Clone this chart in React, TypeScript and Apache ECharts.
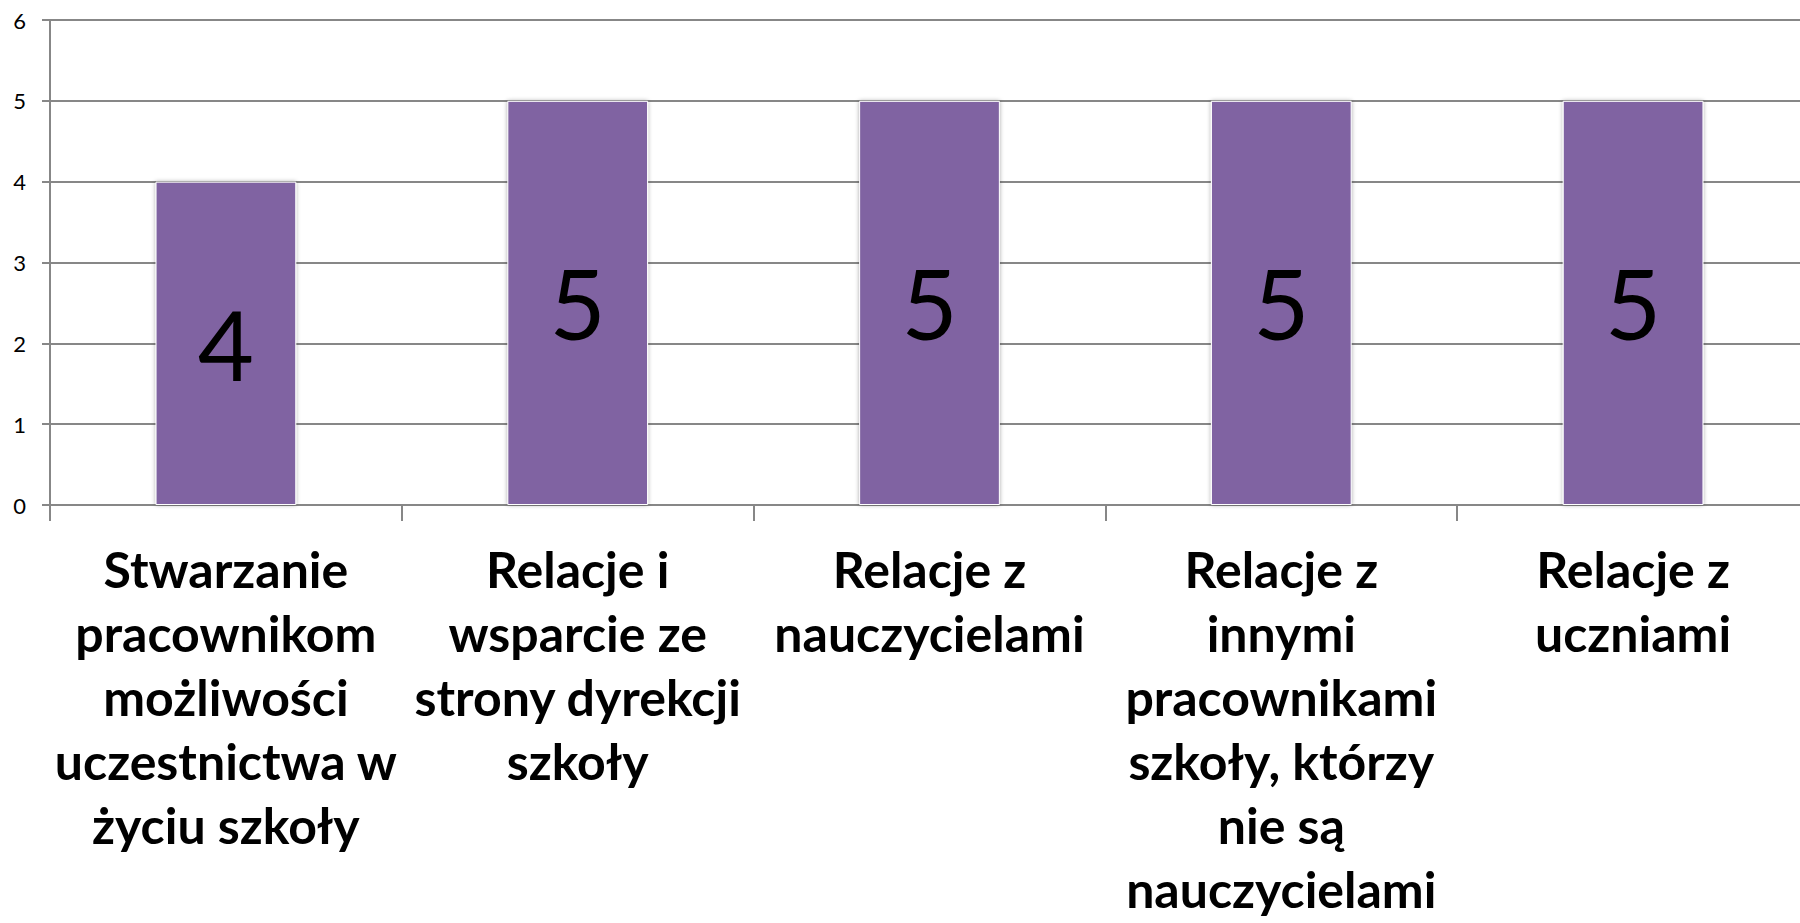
import React, { useEffect, useRef } from "react";
import * as echarts from "echarts";

const categories: string[] = [
  "Stwarzanie\npracownikom\nmożliwości\nuczestnictwa w\nżyciu szkoły",
  "Relacje i\nwsparcie ze\nstrony dyrekcji\nszkoły",
  "Relacje z\nnauczycielami",
  "Relacje z\ninnymi\npracownikami\nszkoły, którzy\nnie są\nnauczycielami",
  "Relacje z\nuczniami",
];
const values: number[] = [4, 5, 5, 5, 5];
const yTicks = { min: 0, max: 6, interval: 1 };

export default function App() {
  const ref = useRef<HTMLDivElement>(null);
  useEffect(() => {
    if (!ref.current) return;
    const chart = echarts.init(ref.current, undefined, { renderer: "svg" });
    chart.setOption({
      animation: false,
      backgroundColor: "#ffffff",
      grid: {
        left: 50,
        width: 1759,
        top: 20,
        height: 485,
        containLabel: false,
        outerBoundsMode: "none",
      },
      xAxis: {
        type: "category",
        data: categories,
        axisLine: { show: true, lineStyle: { color: "#878787", width: 2 } },
        axisTick: { show: true, length: 16, lineStyle: { color: "#878787", width: 2 } },
        axisLabel: {
          interval: 0,
          margin: 32,
          color: "#000000",
          fontFamily: "Lato",
          fontWeight: "bold",
          fontSize: 50,
          lineHeight: 64,
          align: "center",
        },
        splitLine: { show: false },
      },
      yAxis: {
        type: "value",
        min: yTicks.min,
        max: yTicks.max,
        interval: yTicks.interval,
        axisLine: { show: true, lineStyle: { color: "#878787", width: 2 } },
        axisTick: { show: true, length: 8, lineStyle: { color: "#878787", width: 2 } },
        axisLabel: { margin: 24, color: "#000000", fontFamily: "Lato", fontSize: 22 },
        splitLine: { show: true, lineStyle: { color: "#878787", width: 2 } },
      },
      series: [
        {
          type: "bar",
          data: values,
          barWidth: "40%",
          itemStyle: {
            color: "#8064A2",
            borderColor: "#ffffff",
            borderWidth: 1,
            shadowColor: "rgba(0,0,0,0.35)",
            shadowBlur: 4,
          },
          label: {
            show: true,
            position: "inside",
            color: "#000000",
            fontFamily: "Lato",
            fontSize: 97,
          },
        },
      ],
    });
    return () => chart.dispose();
  }, []);
  return (
    <div
      ref={ref}
      style={{ position: "fixed", left: 0, top: 0, width: 1800, height: 923 }}
    />
  );
}
